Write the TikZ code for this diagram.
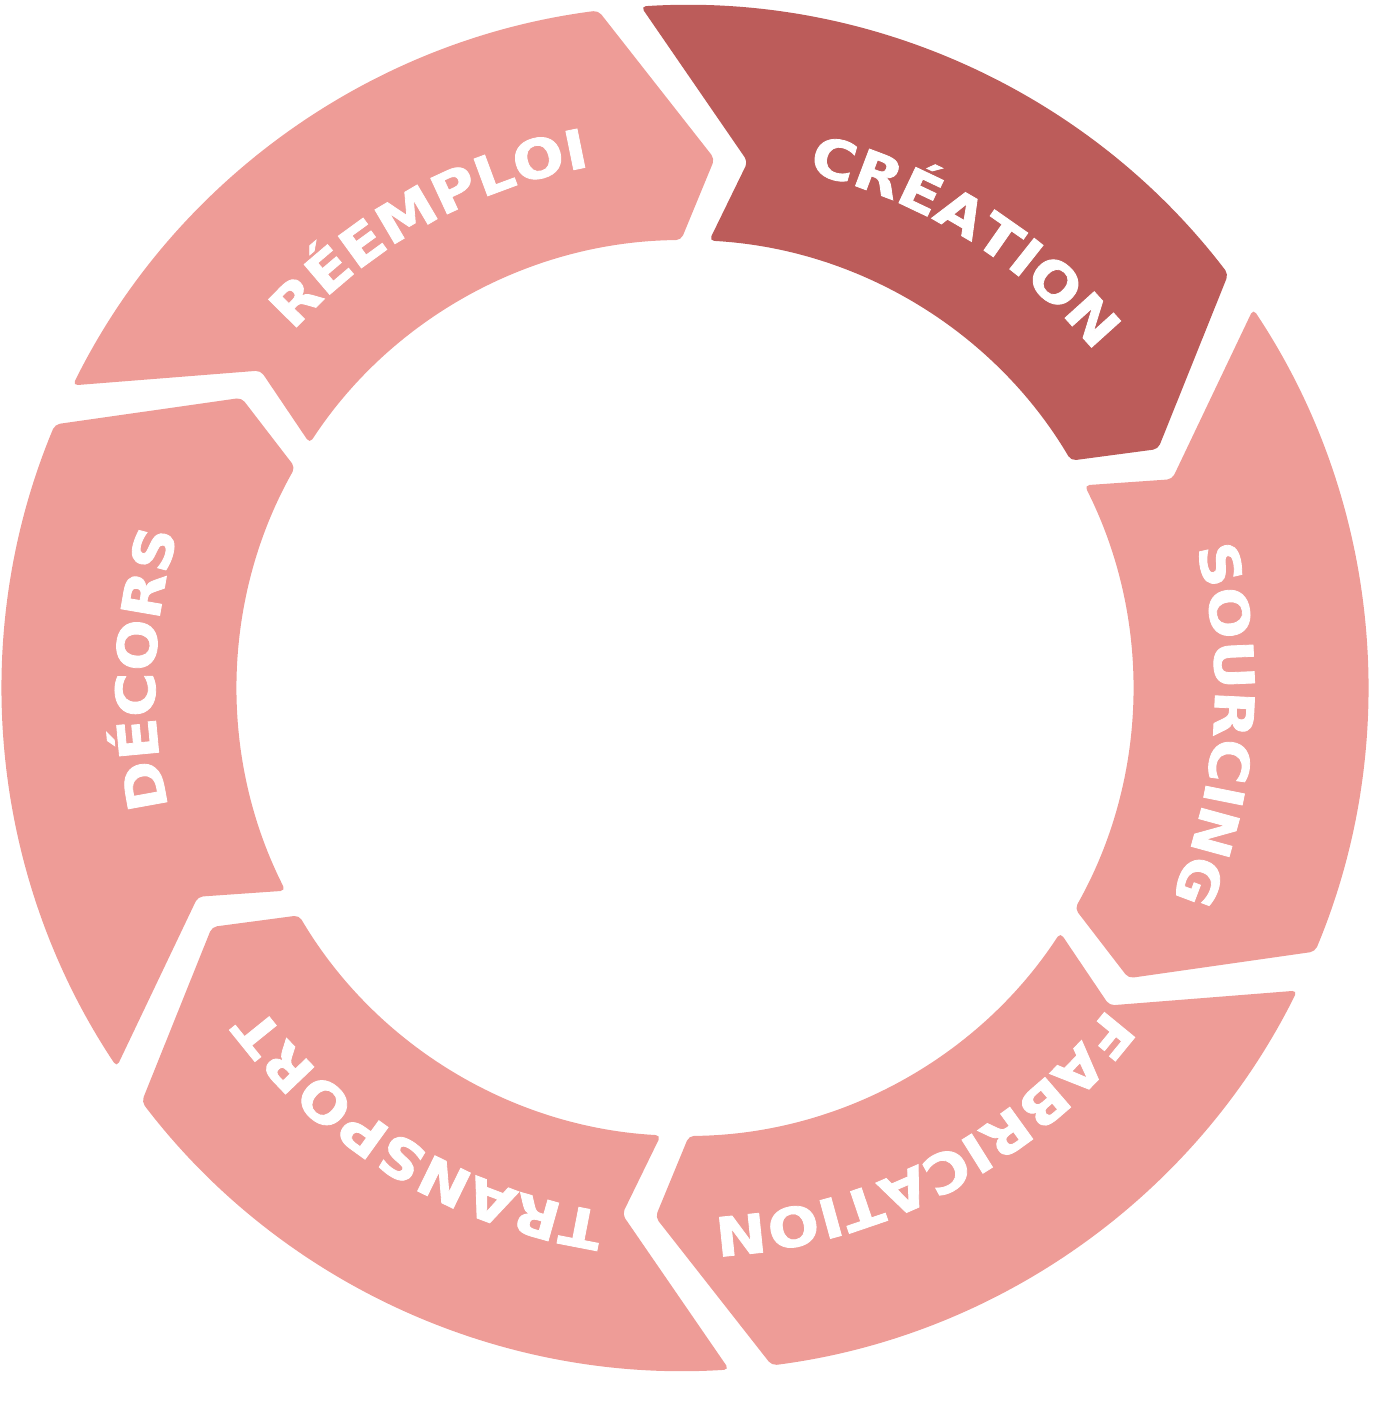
\documentclass[tikz,border=0pt]{standalone}
\usepackage{fontspec}
\newfontfamily\segfont[FakeStretch=1.12,FakeBold=1.5]{DejaVu Sans Bold}
\usetikzlibrary{decorations.text}
\definecolor{segdark}{HTML}{BC5C5A}
\definecolor{seglight}{HTML}{EE9C97}
\tikzset{
  segtext/.style={decorate, decoration={text along path, text align=center, text color=white, text={|\segfont\fontsize{54}{54}\selectfont|#1}}}
}
\begin{document}
\begin{tikzpicture}[x=1pt,y=1pt]
\useasboundingbox (0,0) rectangle (1377,1408);
\begin{scope}[shift={(685,720)}]
\foreach \k/\col in {0/segdark,1/seglight,2/seglight,3/seglight,4/seglight,5/seglight}{
  \pgfmathsetmacro\s{95.5-60*\k}
  \pgfmathsetmacro\e{\s-60}
  \fill[\col, rounded corners=5pt] (\s-1.8:683pt) arc[start angle=\s-1.8, end angle=\e+1.8, radius=683pt]
    -- (\e-8.7:530pt) -- (\e-5:448pt)
    arc[start angle=\e-5, end angle=\s-8.6, radius=448pt]
    -- (\s-12.3:530pt) -- cycle;
}
\path[segtext={CRÉATION}] (108:530pt) arc[start angle=108, end angle=8, radius=530pt];
\path[segtext={SOURCING}] (46:530pt) arc[start angle=46, end angle=-54, radius=530pt];
\path[segtext={FABRICATION}] (-12:530pt) arc[start angle=-12, end angle=-112, radius=530pt];
\path[segtext={TRANSPORT}] (-71:530pt) arc[start angle=-71, end angle=-171, radius=530pt];
\path[segtext={DÉCORS}] (-132:530pt) arc[start angle=-132, end angle=-232, radius=530pt];
\path[segtext={RÉEMPLOI}] (169:530pt) arc[start angle=169, end angle=69, radius=530pt];
\end{scope}
\end{tikzpicture}
\end{document}
